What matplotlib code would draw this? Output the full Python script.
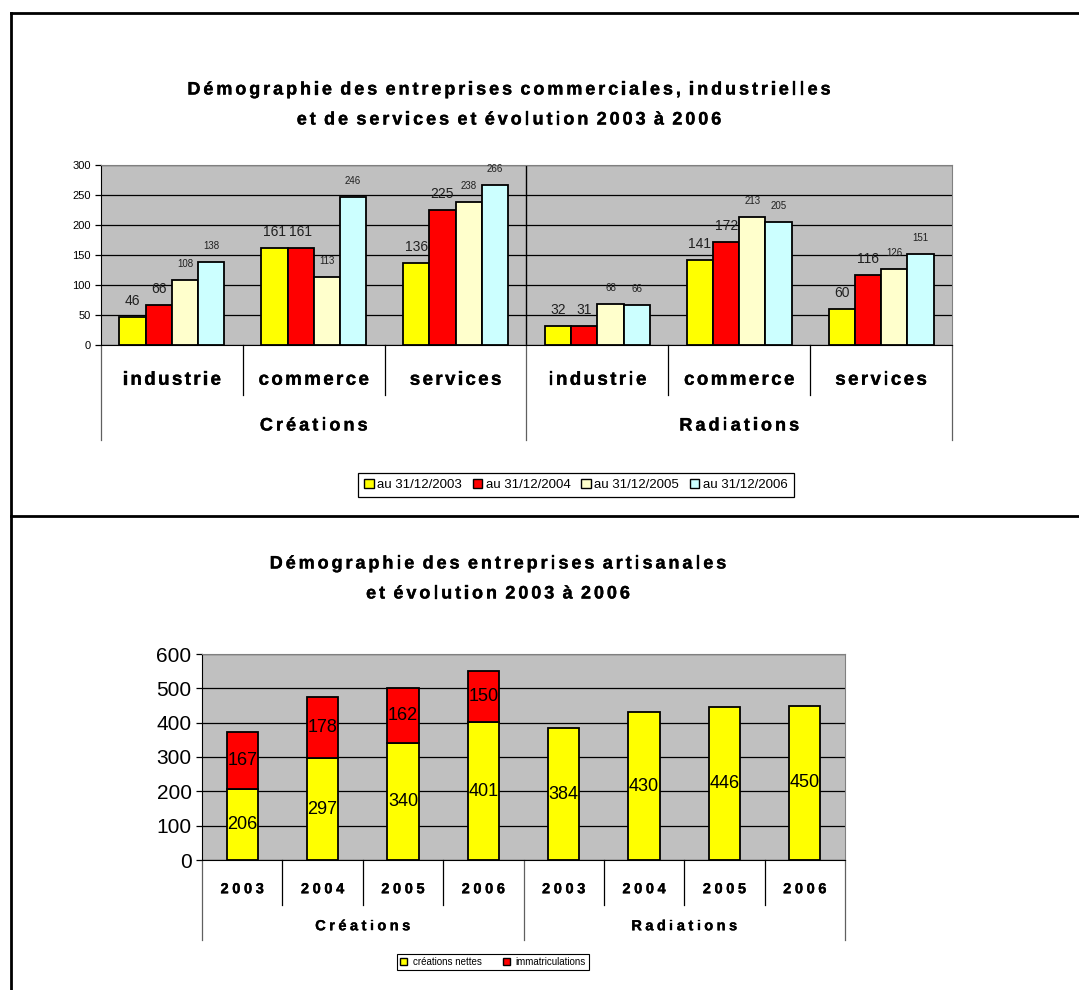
import numpy as np
from matplotlib import pyplot as plt
from matplotlib import patheffects as pe
from matplotlib.lines import Line2D
from matplotlib.patches import Patch
from matplotlib.transforms import offset_copy
from matplotlib.font_manager import FontProperties, findfont, get_font

plt.rcParams['font.family'] = ['Liberation Sans', 'DejaVu Sans']

# données graphique du haut
secteurs = ['industrie', 'commerce', 'services', 'industrie', 'commerce', 'services']
groupes_haut = ['Créations', 'Radiations']
annees_leg = ['au 31/12/2003', 'au 31/12/2004', 'au 31/12/2005', 'au 31/12/2006']
v2003 = [46, 161, 136, 32, 141, 60]
v2004 = [66, 161, 225, 31, 172, 116]
v2005 = [108, 113, 238, 68, 213, 126]
v2006 = [138, 246, 266, 66, 205, 151]

# données graphique du bas
annees = ['2003', '2004', '2005', '2006', '2003', '2004', '2005', '2006']
groupes_bas = ['Créations', 'Radiations']
creations_nettes = [206, 297, 340, 401, 384, 430, 446, 450]
immatriculations = [167, 178, 162, 150, 0, 0, 0, 0]

couleurs = ['#FFFF00', '#FF0000', '#FFFFCC', '#CCFFFF']
W, H = 1079, 990

fig = plt.figure(figsize=(W / 100, H / 100), dpi=100)


def ax_rect(x0, y0, x1, y1):
    return [x0 / W, 1 - y1 / H, (x1 - x0) / W, (y1 - y0) / H]


def spaced_text(tr, x, y, s, size, spacing, weight='bold'):
    # texte avec espacement des lettres (comme le rendu Excel), centré en (x, y)
    fp = FontProperties(family='Liberation Sans', weight=weight, size=size)
    font = get_font(findfont(fp))
    font.set_size(size, 72)
    advs = []
    for c in s:
        a = font.load_char(ord(c)).linearHoriAdvance / 65536
        advs.append(a * 0.5 if c == ' ' else a)
    total = sum(advs) + spacing * (len(s) - 1)
    cur = -total / 2
    effet = [pe.withStroke(linewidth=0.25, foreground='black')]
    for c, a in zip(s, advs):
        if c != ' ':
            fig.text(x, y, c, fontproperties=fp, ha='left', va='baseline', path_effects=effet,
                     transform=offset_copy(tr, fig=fig, x=cur, y=-0.36 * size, units='points'))
        cur += a + spacing


def style_ax(ax, fs):
    ax.set_facecolor('#C0C0C0')
    ax.yaxis.grid(True, color='black', lw=0.9)
    ax.set_axisbelow(True)
    for s in ['top', 'right']:
        ax.spines[s].set_color('#808080')
    ax.spines['left'].set_color('black')
    ax.spines['bottom'].set_color('black')
    ax.tick_params(axis='y', labelsize=fs, length=4, width=0.9, direction='out')
    ax.tick_params(axis='x', bottom=False, labelbottom=False)


def multi_level(ax, labels, groups, n_per_group, y1, y2, lab_fs, grp_fs, lab_y, grp_y, lab_sp, grp_sp):
    # axe à deux niveaux, coordonnées y en pixels sous l'axe
    tr = ax.get_xaxis_transform()
    n = len(labels)
    ylo = ax.get_position().y0
    hax = ax.get_position().height

    def yax(py):
        return (1 - py / H - ylo) / hax
    for i in range(n + 1):
        bottom = y2 if i % n_per_group == 0 else y1
        ax.add_line(Line2D([i - 0.5, i - 0.5], [0, yax(bottom)], transform=tr,
                           color='black' if i % n_per_group else '#606060', lw=0.9, clip_on=False))
    for i, lab in enumerate(labels):
        spaced_text(tr, i, yax(lab_y), lab, lab_fs, lab_sp)
    for g, lab in enumerate(groups):
        xc = g * n_per_group + (n_per_group - 1) / 2
        spaced_text(tr, xc, yax(grp_y), lab, grp_fs, grp_sp)


# ---- graphique du haut ----
ax1 = fig.add_axes(ax_rect(101, 165, 952, 345))
style_ax(ax1, 8)
x = np.arange(len(secteurs))
bw = 0.185
series = [v2003, v2004, v2005, v2006]
lab_sizes = [10, 10, 7, 7]
lab_offs = [6.5, 6.5, 8, 8]
for k, vals in enumerate(series):
    pos = x + (k - 1.5) * bw
    ax1.bar(pos, vals, bw, color=couleurs[k], edgecolor='black', lw=1.3, label=annees_leg[k], zorder=3)
    for p, v in zip(pos, vals):
        ax1.annotate(str(v), (p, v), xytext=(0, lab_offs[k]), textcoords='offset points',
                     ha='center', va='bottom', fontsize=lab_sizes[k], color='#202020',
                     annotation_clip=False)
ax1.set_xlim(-0.5, len(secteurs) - 0.5)
ax1.set_ylim(0, 300)
ax1.set_yticks(range(0, 301, 50))
ax1.axvline(2.5, color='black', lw=1.0, zorder=2)
multi_level(ax1, secteurs, groupes_haut, 3, 395, 440, 13.5, 13, 378, 424, 1.7, 2.2)

spaced_text(fig.transFigure, 509 / W, 1 - 88 / H,
            'Démographie des entreprises commerciales, industrielles', 13, 2.1)
spaced_text(fig.transFigure, 509 / W, 1 - 118 / H,
            'et de services et évolution 2003 à 2006', 13, 2.1)

h1 = [Patch(facecolor=c, edgecolor='black', lw=1) for c in couleurs]
fig.legend(h1, annees_leg, loc='center', bbox_to_anchor=(576 / W, 1 - 485 / H), ncol=4,
           fontsize=9.5, frameon=True, fancybox=False, edgecolor='black', framealpha=1,
           handlelength=0.7, handleheight=0.7, handletextpad=0.3, columnspacing=0.8,
           borderpad=0.45).get_frame().set_linewidth(0.9)

# ---- graphique du bas ----
ax2 = fig.add_axes(ax_rect(202, 654, 845, 860))
style_ax(ax2, 15)
x2 = np.arange(len(annees))
bw2 = 0.39
ax2.bar(x2, creations_nettes, bw2, color='#FFFF00', edgecolor='black', lw=1.3, zorder=3)
im = np.array(immatriculations)
mask = im > 0
ax2.bar(x2[mask], im[mask], bw2, bottom=np.array(creations_nettes)[mask],
        color='#FF0000', edgecolor='black', lw=1.3, zorder=3)
for i in range(len(annees)):
    ax2.text(x2[i], creations_nettes[i] / 2, str(creations_nettes[i]), ha='center', va='center',
             fontsize=13, zorder=4)
    if immatriculations[i] > 0:
        ax2.text(x2[i], creations_nettes[i] + immatriculations[i] / 2, str(immatriculations[i]),
                 ha='center', va='center', fontsize=13, zorder=4)
ax2.set_xlim(-0.5, len(annees) - 0.5)
ax2.set_ylim(0, 600)
ax2.set_yticks(range(0, 601, 100))
multi_level(ax2, annees, groupes_bas, 4, 905, 940, 10.5, 10.5, 888, 925, 2.6, 2.5)

spaced_text(fig.transFigure, 498 / W, 1 - 562 / H, 'Démographie des entreprises artisanales', 13, 2.1)
spaced_text(fig.transFigure, 498 / W, 1 - 592 / H, 'et évolution 2003 à 2006', 13, 2.1)

h2 = [Patch(facecolor='#FFFF00', edgecolor='black', lw=1), Patch(facecolor='#FF0000', edgecolor='black', lw=1)]
fig.legend(h2, ['créations nettes', 'immatriculations'], loc='center',
           bbox_to_anchor=(493 / W, 1 - 962 / H), ncol=2, fontsize=7, frameon=True,
           fancybox=False, edgecolor='black', framealpha=1, handlelength=0.7, handleheight=0.7,
           handletextpad=0.6, columnspacing=2.2, borderpad=0.35).get_frame().set_linewidth(0.8)

# cadres
for xs, ys in [([11, 11], [13, 990]), ([11, 1079], [13, 13]), ([11, 1079], [516, 516])]:
    fig.add_artist(Line2D([v / W for v in xs], [1 - v / H for v in ys], color='black', lw=2))

fig.savefig('out.png', dpi=100)
